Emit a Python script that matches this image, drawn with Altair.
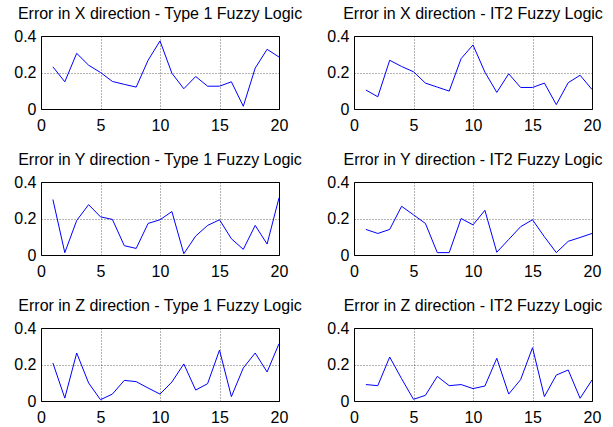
import altair as alt
import pandas as pd

steps = list(range(1, 21))

x_type1 = [0.231, 0.149, 0.305, 0.240, 0.200, 0.151, 0.135, 0.120, 0.267, 0.373,
           0.196, 0.111, 0.178, 0.125, 0.125, 0.149, 0.015, 0.224, 0.327, 0.285]
x_it2 = [0.104, 0.067, 0.267, 0.233, 0.204, 0.142, 0.120, 0.098, 0.276, 0.351,
         0.202, 0.091, 0.193, 0.118, 0.118, 0.142, 0.024, 0.144, 0.185, 0.107]
y_type1 = [0.304, 0.013, 0.189, 0.276, 0.209, 0.195, 0.051, 0.036, 0.173, 0.193,
           0.238, 0.007, 0.104, 0.162, 0.193, 0.089, 0.031, 0.162, 0.060, 0.313]
y_it2 = [0.140, 0.118, 0.140, 0.267, 0.220, 0.173, 0.013, 0.013, 0.200, 0.165,
         0.245, 0.015, 0.085, 0.155, 0.193, 0.100, 0.013, 0.075, 0.096, 0.118]
z_type1 = [0.208, 0.016, 0.263, 0.099, 0.007, 0.038, 0.113, 0.106, 0.071, 0.038,
           0.104, 0.203, 0.060, 0.095, 0.279, 0.024, 0.181, 0.263, 0.159, 0.314]
z_it2 = [0.090, 0.084, 0.241, 0.122, 0.009, 0.031, 0.135, 0.084, 0.090, 0.068,
         0.082, 0.234, 0.038, 0.117, 0.292, 0.024, 0.142, 0.170, 0.015, 0.115]

titles = [
    "Error in X direction - Type 1 Fuzzy Logic",
    "Error in X direction - IT2 Fuzzy Logic",
    "Error in Y direction - Type 1 Fuzzy Logic",
    "Error in Y direction - IT2 Fuzzy Logic",
    "Error in Z direction - Type 1 Fuzzy Logic",
    "Error in Z direction - IT2 Fuzzy Logic",
]
series = [x_type1, x_it2, y_type1, y_it2, z_type1, z_it2]
x_ticks = [0, 5, 10, 15, 20]
y_ticks = [0, 0.2, 0.4]

FONT = "Liberation Sans"


def panel(vals, title):
    df = pd.DataFrame({"step": steps, "err": vals})
    return (
        alt.Chart(df, title=alt.TitleParams(title, fontSize=16, font=FONT,
                                            fontWeight="normal", color="black",
                                            offset=6))
        .mark_line(color="#0000ff", strokeWidth=1, clip=True)
        .encode(
            x=alt.X("step:Q",
                    scale=alt.Scale(domain=[0, 20], nice=False, zero=False),
                    axis=alt.Axis(values=x_ticks, title=None, labelPadding=8)),
            y=alt.Y("err:Q",
                    scale=alt.Scale(domain=[0, 0.4], nice=False),
                    axis=alt.Axis(values=y_ticks, title=None, format="~g",
                                  labelPadding=5)),
        )
        .properties(width=238, height=73)
    )


chart = (
    alt.concat(*[panel(v, t) for v, t in zip(series, titles)], columns=2,
               spacing={"row": 73, "column": 75}, bounds="flush")
    .properties(padding={"left": 13, "top": 5, "right": 5, "bottom": 5},
                background="white")
    .configure_view(stroke="black", strokeWidth=1)
    .configure_axis(
        labelFont=FONT, labelFontSize=16, labelColor="black",
        ticks=False, domain=False,
        grid=True, gridColor="black", gridDash=[1, 2], gridOpacity=0.6,
        labelFlush=False,
    )
)

chart.save("out.html", embed_options={"renderer": "svg", "actions": False})
